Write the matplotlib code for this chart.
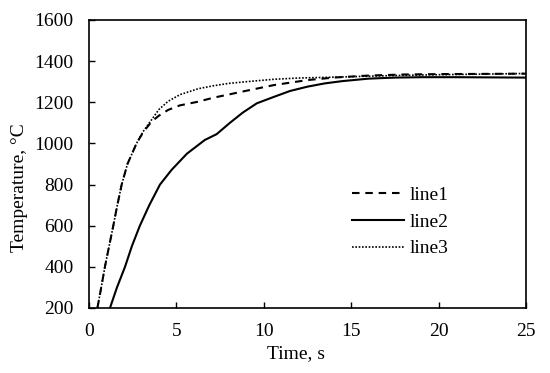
import matplotlib
matplotlib.use("Agg")
import matplotlib.pyplot as plt

plt.rcParams['font.family'] = ['Liberation Serif', 'DejaVu Serif']

t1 = [0.48, 0.7, 0.91, 1.15, 1.39, 1.62, 1.87, 2.2, 2.72, 3.1, 3.58, 4.0, 4.53, 5.2, 6.25, 7.1, 8.0, 9.0, 10.6, 12.5, 14.0, 16.0, 18.0, 20.0, 22.5, 25.0]
T1 = [200, 300, 400, 500, 600, 700, 800, 900, 1000, 1055, 1106, 1135, 1163, 1185, 1203, 1222, 1238, 1256, 1284, 1308, 1320, 1330, 1335, 1337, 1338, 1339]

t2 = [1.2, 1.6, 2.06, 2.45, 2.91, 3.45, 4.06, 4.72, 5.6, 6.63, 7.3, 8.06, 8.8, 9.6, 10.6, 11.5, 12.5, 13.5, 14.5, 16.0, 17.5, 19.0, 21.0, 23.0, 25.0]
T2 = [200, 300, 400, 500, 600, 700, 800, 871, 950, 1017, 1045, 1100, 1150, 1195, 1227, 1255, 1276, 1292, 1303, 1315, 1320, 1322, 1322, 1321, 1320]

t3 = [0.48, 0.7, 0.91, 1.15, 1.39, 1.62, 1.87, 2.2, 2.72, 3.1, 3.58, 4.0, 4.53, 5.2, 6.25, 7.1, 8.0, 9.0, 10.6, 12.0, 14.0, 16.0, 18.0, 20.0, 22.5, 25.0]
T3 = [200, 300, 400, 500, 600, 700, 800, 900, 1000, 1058, 1115, 1165, 1205, 1237, 1266, 1280, 1292, 1300, 1312, 1318, 1322, 1327, 1331, 1334, 1337, 1340]

labels = ['line1', 'line2', 'line3']
xticks = [0, 5, 10, 15, 20, 25]
yticks = [200, 400, 600, 800, 1000, 1200, 1400, 1600]

FS = 14

fig = plt.figure(figsize=(5.5, 3.73), dpi=100)
ax = fig.add_axes([89/550, 1-308/373, (526-89)/550, (308-20)/373])

ax.plot(t1, T1, color='black', lw=1.5, linestyle=(0, (3.6, 2.8)), label=labels[0])
ax.plot(t2, T2, color='black', lw=1.5, linestyle='-', label=labels[1])
ax.plot(t3, T3, color='black', lw=1.2, linestyle=(0, (1, 1.0)), label=labels[2])

ax.set_xlim(0, 25)
ax.set_ylim(200, 1600)
ax.set_xticks(xticks)
ax.set_yticks(yticks)
ax.tick_params(direction='in', length=4, width=1, labelsize=FS, pad=11)
ax.tick_params(axis='y', left=True, right=False)
ax.tick_params(axis='x', bottom=True, top=False)
for s in ax.spines.values():
    s.set_linewidth(1.2)

ax.set_xlabel('Time, s', fontsize=FS)
ax.set_ylabel('Temperature, °C', fontsize=FS)
ax.xaxis.set_label_coords((296-89)/437, (308-345)/288)
ax.yaxis.set_label_coords((28-89)/437, (308-188)/288)

ax.legend(loc='center left', bbox_to_anchor=((352-89)/437, (308-221.7)/288), frameon=False, fontsize=FS,
          handlelength=2.65, handletextpad=0.3, labelspacing=0.48, borderpad=0, borderaxespad=0)

fig.savefig('out.png', dpi=100)
